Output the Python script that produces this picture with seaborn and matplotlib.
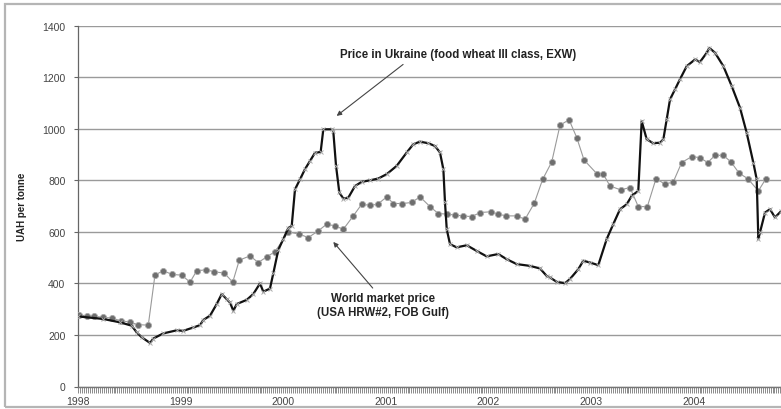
import matplotlib
matplotlib.use("Agg")
import matplotlib.pyplot as plt
import seaborn as sns
import numpy as np
import pandas as pd
from matplotlib.patches import Rectangle
from matplotlib.ticker import MultipleLocator, FixedLocator

# ---------------- data ----------------
# World market price (USA HRW#2, FOB Gulf), time in decimal years
world_t = [1998.01, 1998.085, 1998.159, 1998.247, 1998.328, 1998.416, 1998.507, 1998.582, 1998.685, 1998.750, 1998.831, 1998.913,
           1999.011, 1999.092, 1999.157, 1999.248, 1999.328, 1999.426, 1999.508, 1999.572, 1999.676, 1999.757, 1999.839, 1999.920,
           2000.050, 2000.157, 2000.245, 2000.342, 2000.424, 2000.505, 2000.586, 2000.683, 2000.765, 2000.846, 2000.921, 2001.009,
           2001.073, 2001.161, 2001.252, 2001.333, 2001.431, 2001.512, 2001.594, 2001.674, 2001.755, 2001.837, 2001.918, 2002.025,
           2002.096, 2002.171, 2002.276, 2002.357, 2002.447, 2002.529, 2002.617, 2002.698, 2002.786, 2002.861, 2002.932, 2003.061,
           2003.120, 2003.185, 2003.289, 2003.380, 2003.461, 2003.549, 2003.634, 2003.721, 2003.802, 2003.884, 2003.981, 2004.062,
           2004.137, 2004.209, 2004.290, 2004.365, 2004.445, 2004.527, 2004.631, 2004.706]
world_price = [277, 275, 273, 268, 266, 255, 250, 240, 238, 432, 450, 435,
               432, 405, 449, 453, 445, 440, 405, 490, 507, 481, 503, 523,
               600, 591, 578, 604, 630, 623, 610, 662, 707, 703, 707, 736,
               710, 710, 714, 736, 698, 671, 669, 665, 662, 659, 675, 678,
               669, 662, 662, 649, 711, 804, 871, 1014, 1035, 966, 879, 824,
               824, 778, 763, 772, 698, 698, 807, 785, 794, 869, 892, 888,
               869, 897, 897, 871, 827, 807, 759, 807]

# Price in Ukraine (food wheat III class, EXW)
ukr_t = [1998.000, 1998.247, 1998.409, 1998.523, 1998.572, 1998.621, 1998.702, 1998.734, 1998.831, 1998.962,
         1999.026, 1999.124, 1999.189, 1999.221, 1999.287, 1999.352, 1999.401, 1999.449, 1999.481, 1999.514,
         1999.547, 1999.644, 1999.709, 1999.774, 1999.806, 1999.871, 1999.904, 1999.952, 2000.001, 2000.050,
         2000.083, 2000.115, 2000.164, 2000.212, 2000.261, 2000.310, 2000.365, 2000.391, 2000.473, 2000.488,
         2000.515, 2000.547, 2000.586, 2000.635, 2000.700, 2000.765, 2000.846, 2000.927, 2001.009, 2001.106,
         2001.204, 2001.268, 2001.333, 2001.414, 2001.480, 2001.528, 2001.561, 2001.577, 2001.594, 2001.626,
         2001.691, 2001.789, 2001.886, 2001.983, 2002.096, 2002.178, 2002.276, 2002.405, 2002.503, 2002.568,
         2002.600, 2002.666, 2002.747, 2002.795, 2002.876, 2002.925, 2002.990, 2003.071, 2003.153, 2003.217,
         2003.283, 2003.348, 2003.397, 2003.461, 2003.494, 2003.543, 2003.607, 2003.673, 2003.705, 2003.738,
         2003.770, 2003.819, 2003.867, 2003.933, 2004.014, 2004.062, 2004.128, 2004.153, 2004.209, 2004.290,
         2004.371, 2004.452, 2004.517, 2004.582, 2004.615, 2004.631, 2004.647, 2004.696, 2004.745, 2004.793,
         2004.852]
ukr_price = [272, 262, 249, 236, 210, 191, 169, 186, 206, 218,
             216, 229, 238, 258, 275, 320, 359, 339, 326, 294,
             320, 336, 359, 400, 368, 380, 440, 530, 572, 615,
             623, 765, 804, 843, 875, 907, 910, 998, 998, 991,
             856, 753, 729, 733, 778, 794, 800, 807, 824, 856,
             908, 940, 950, 944, 933, 908, 843, 714, 610, 552,
             540, 548, 526, 505, 514, 494, 475, 468, 458, 429,
             423, 406, 401, 417, 455, 488, 481, 471, 572, 630,
             688, 707, 740, 759, 1030, 959, 944, 946, 959, 1037,
             1114, 1153, 1192, 1243, 1269, 1259, 1295, 1314, 1295, 1243,
             1166, 1082, 985, 869, 804, 572, 598, 675, 688, 656,
             680]

year_labels = ["1998", "1999", "2000", "2001", "2002", "2003", "2004"]
y_ticks = [0, 200, 400, 600, 800, 1000, 1200, 1400]

label_ukr = "Price in Ukraine (food wheat III class, EXW)"
label_world = "World market price\n(USA HRW#2, FOB Gulf)"
y_label = "UAH per tonne"

# ---------------- plot ----------------
sns.set_theme(style="white")
plt.rcParams["font.family"] = ["Liberation Sans", "DejaVu Sans"]

fig = plt.figure(figsize=(7.81, 4.10), dpi=100)
fig.patch.set_facecolor("white")
ax = fig.add_axes([78 / 781, (410 - 387.5) / 410, 1 - 78 / 781, (387.5 - 26.7) / 410])
ax.set_facecolor("white")

world_df = pd.DataFrame({"t": world_t, "price": world_price})
ukr_df = pd.DataFrame({"t": ukr_t, "price": ukr_price})

sns.lineplot(data=world_df, x="t", y="price", ax=ax, sort=False, estimator=None,
             color="#9a9a9a", lw=0.8, marker="o", markersize=4.4,
             markerfacecolor="#6e6e6e", markeredgecolor="#a8a8a8", markeredgewidth=0.6, zorder=3)
sns.lineplot(data=ukr_df, x="t", y="price", ax=ax, sort=False, estimator=None,
             color="#111111", lw=1.6, marker="x", markersize=3.5,
             markeredgecolor="#aaaaaa", markeredgewidth=0.7, zorder=4)

ax.set_xlim(1998.0, 1998 + (781 - 78) / 102.6)
ax.set_ylim(0, 1400)

years = [int(y) for y in year_labels]
ax.xaxis.set_major_locator(FixedLocator(years))
ax.set_xticks(years)
ax.set_xticklabels(year_labels)
ax.xaxis.set_minor_locator(MultipleLocator(1 / 52))
ax.set_yticks(y_ticks)
ax.set_yticklabels([str(v) for v in y_ticks])

ax.grid(axis="y", color="#9a9a9a", lw=1.0)
ax.grid(axis="x", visible=False)
ax.set_axisbelow(True)

for s in ["top", "right"]:
    ax.spines[s].set_visible(False)
ax.spines["left"].set_color("#666666")
ax.spines["left"].set_linewidth(0.9)
ax.spines["bottom"].set_color("#777777")
ax.spines["bottom"].set_linewidth(1.0)

ax.tick_params(axis="x", which="minor", direction="out", length=4, width=0.7, color="#8a8a8a", bottom=True)
ax.tick_params(axis="x", which="major", direction="out", length=4, width=0.7, color="#8a8a8a",
               labelsize=7.5, labelcolor="#444444", pad=2.5, bottom=True)
ax.tick_params(axis="y", which="major", direction="out", length=3, width=0.8, color="#666666",
               labelsize=7.5, labelcolor="#444444", pad=6, left=True)

ax.set_xlabel("")
ax.set_ylabel(y_label, fontsize=7, fontweight="bold", color="#222222")
ax.yaxis.set_label_coords(-51 / 703, 0.5)

# annotations
ax.annotate(label_ukr, xy=(2000.521, 1050), xytext=(2001.704, 1289),
            ha="center", va="center", fontsize=8.3, fontweight="bold", color="#222222",
            arrowprops=dict(arrowstyle="-|>", color="#444444", lw=0.8, mutation_scale=7,
                            shrinkA=1, shrinkB=0, relpos=(0.29, 0.0)))
ax.annotate(label_world, xy=(2000.488, 561), xytext=(2000.973, 316),
            ha="center", va="center", fontsize=8.3, fontweight="bold", color="#222222",
            linespacing=1.15,
            arrowprops=dict(arrowstyle="-|>", color="#444444", lw=0.8, mutation_scale=7,
                            shrinkA=1, shrinkB=0, relpos=(0.45, 1.0)))

# outer frame of the chart
fig.patches.append(Rectangle((5 / 781, 2 / 410), 1.2, (408 - 5) / 410,
                             transform=fig.transFigure, fill=False,
                             edgecolor="#b5b5b5", lw=1.6, zorder=10))

fig.savefig("out.png", dpi=100, facecolor="white")
